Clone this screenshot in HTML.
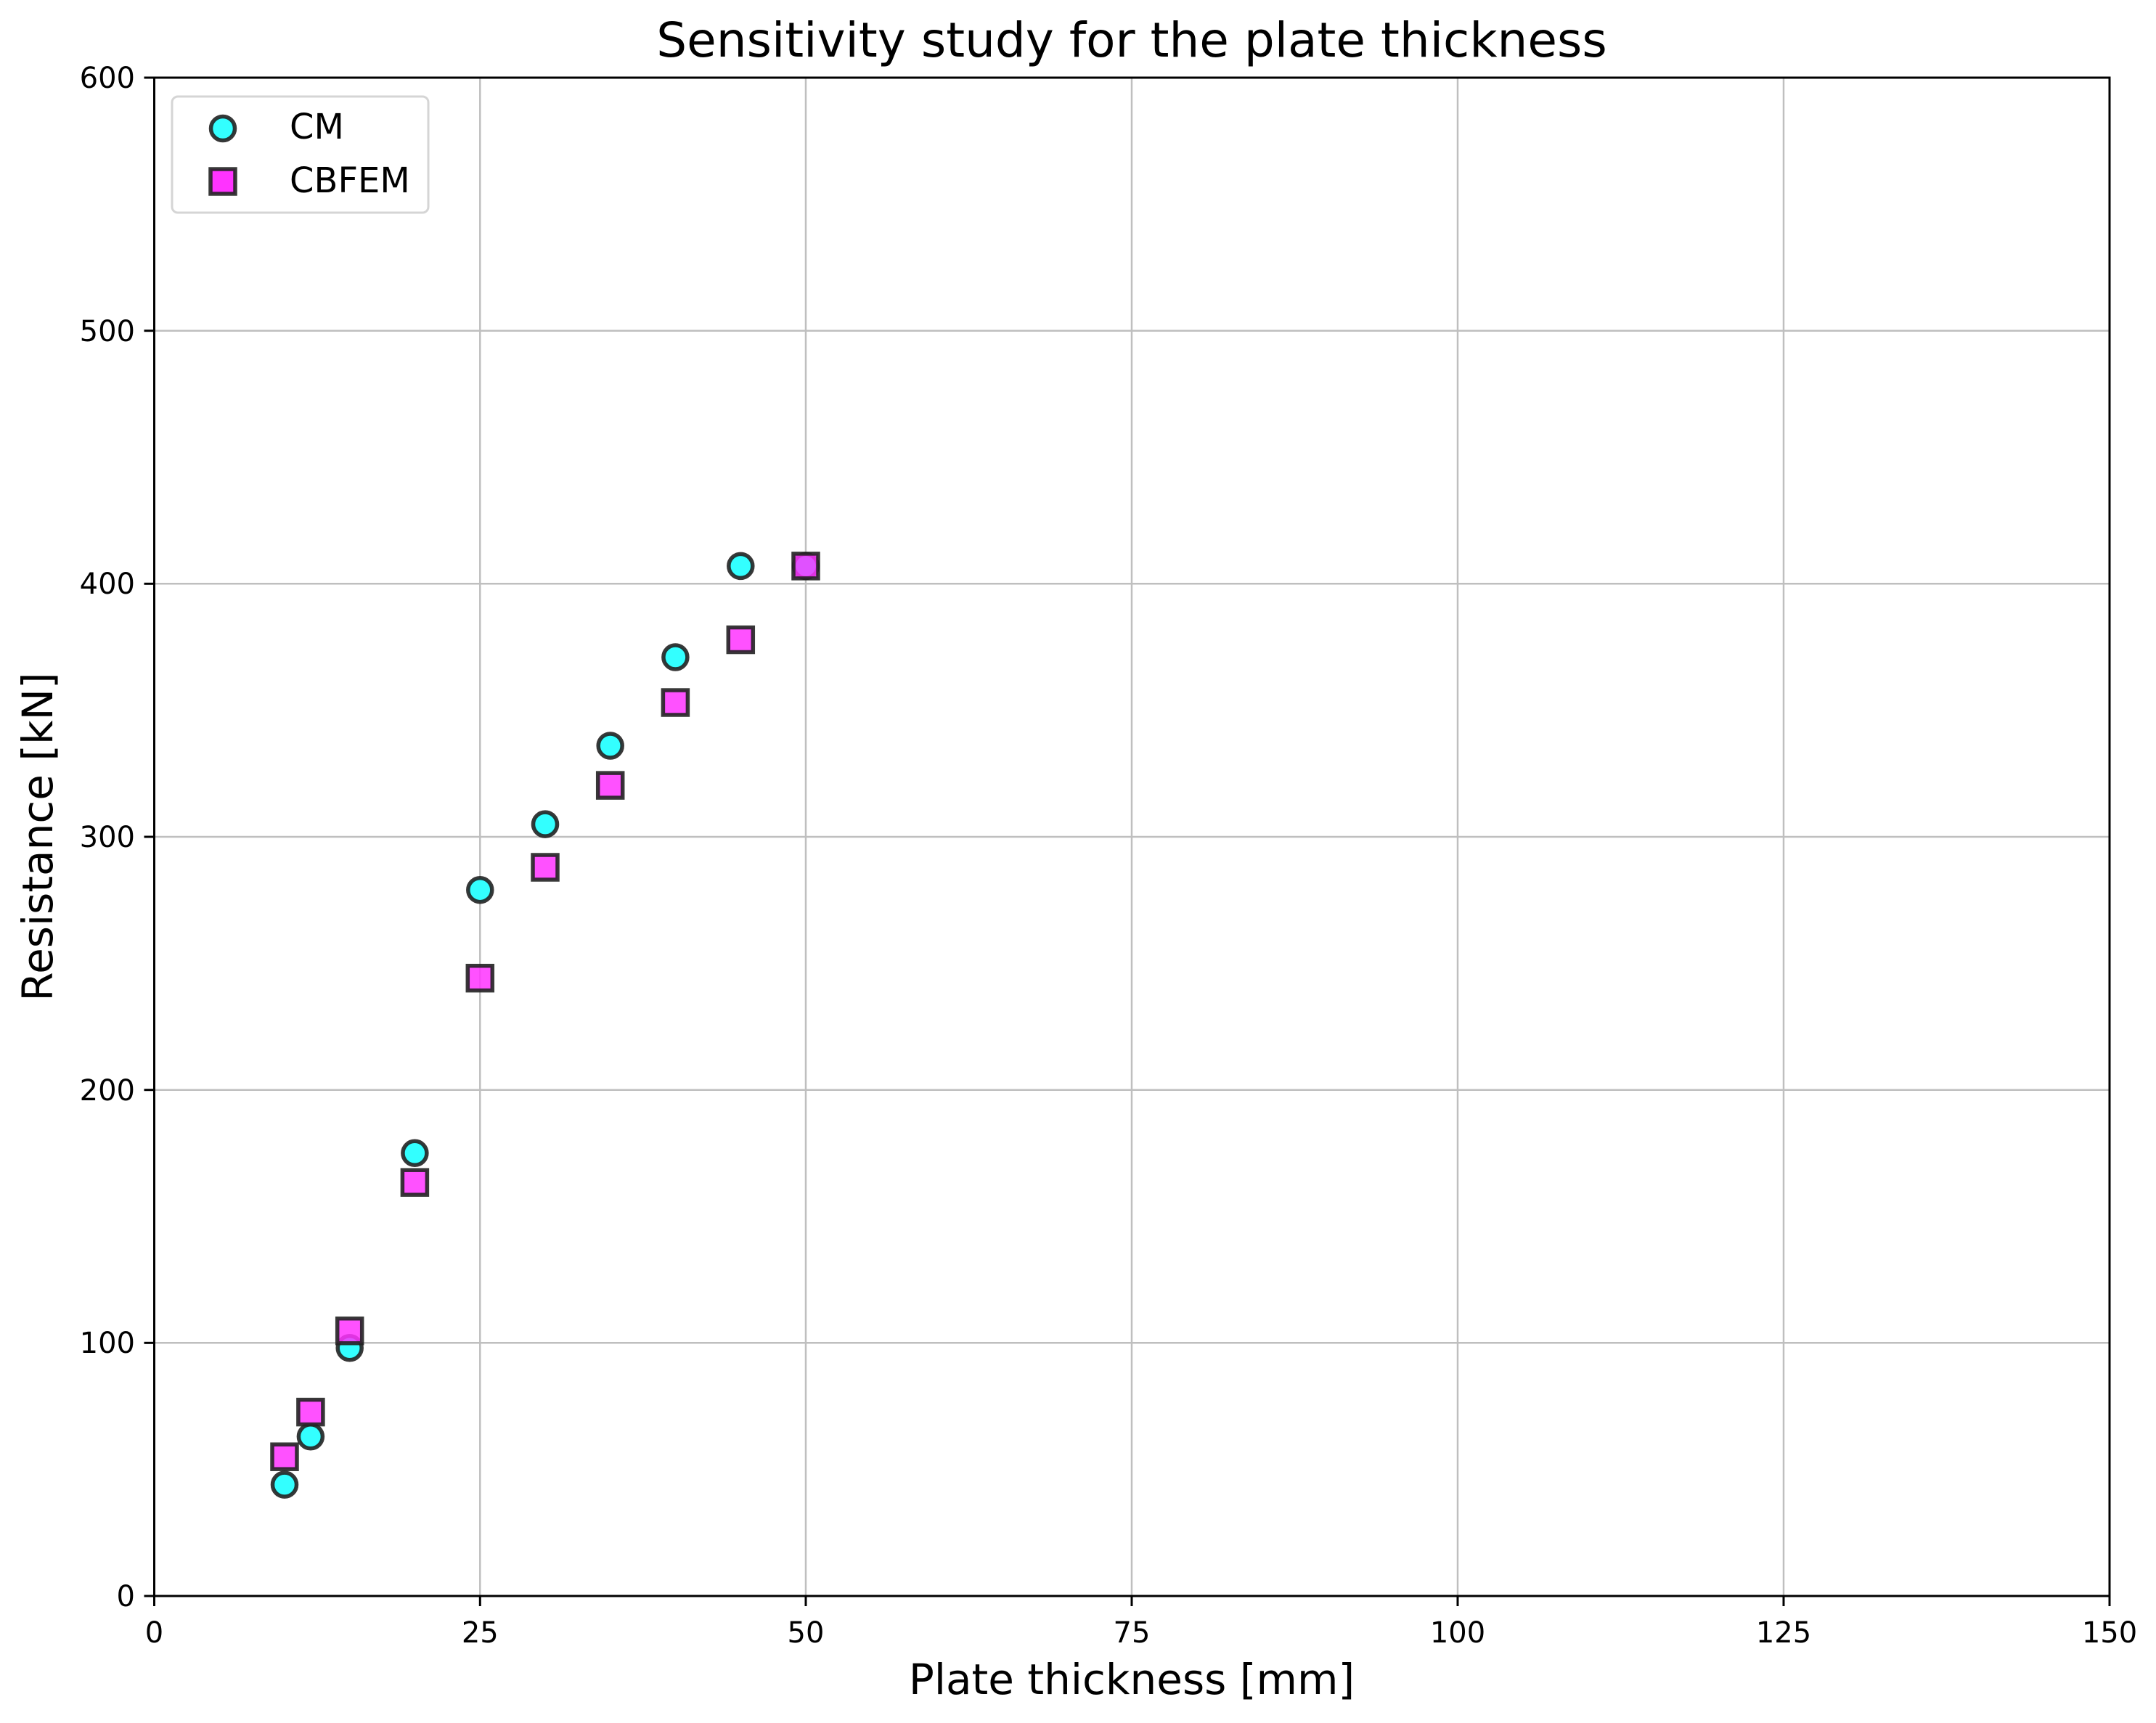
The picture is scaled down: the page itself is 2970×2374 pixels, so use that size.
<!DOCTYPE html>
<html><head><meta charset="utf-8"><style>html,body{margin:0;padding:0;background:#fff}svg{display:block}</style></head>
<body>
<svg xmlns="http://www.w3.org/2000/svg" width="2970" height="2374" viewBox="0 0 2970 2374" font-family="'DejaVu Sans','Liberation Sans',sans-serif">
<rect width="2970" height="2374" fill="#fff"/>
<g stroke="#b0b0b0" stroke-width="2.5" opacity="0.8">
<line x1="661.3" y1="107" x2="661.3" y2="2199"/>
<line x1="1110" y1="107" x2="1110" y2="2199"/>
<line x1="1559" y1="107" x2="1559" y2="2199"/>
<line x1="2008" y1="107" x2="2008" y2="2199"/>
<line x1="2457" y1="107" x2="2457" y2="2199"/>
<line x1="212.5" y1="1850.3" x2="2906" y2="1850.3"/>
<line x1="212.5" y1="1501.7" x2="2906" y2="1501.7"/>
<line x1="212.5" y1="1153" x2="2906" y2="1153"/>
<line x1="212.5" y1="804.3" x2="2906" y2="804.3"/>
<line x1="212.5" y1="455.7" x2="2906" y2="455.7"/>
</g>
<g stroke="#000" stroke-width="3">
<rect x="212.5" y="107" width="2693.5" height="2092" fill="none"/>
<line x1="212.5" y1="2199" x2="212.5" y2="2213"/>
<line x1="661.3" y1="2199" x2="661.3" y2="2213"/>
<line x1="1110" y1="2199" x2="1110" y2="2213"/>
<line x1="1559" y1="2199" x2="1559" y2="2213"/>
<line x1="2008" y1="2199" x2="2008" y2="2213"/>
<line x1="2457" y1="2199" x2="2457" y2="2213"/>
<line x1="2906" y1="2199" x2="2906" y2="2213"/>
<line x1="198.5" y1="2199" x2="212.5" y2="2199"/>
<line x1="198.5" y1="1850.3" x2="212.5" y2="1850.3"/>
<line x1="198.5" y1="1501.7" x2="212.5" y2="1501.7"/>
<line x1="198.5" y1="1153" x2="212.5" y2="1153"/>
<line x1="198.5" y1="804.3" x2="212.5" y2="804.3"/>
<line x1="198.5" y1="455.7" x2="212.5" y2="455.7"/>
<line x1="198.5" y1="107" x2="212.5" y2="107"/>
</g>
<g font-size="40" text-anchor="middle" fill="#000">
<text x="212.5" y="2263">0</text><text x="661.3" y="2263">25</text><text x="1110" y="2263">50</text><text x="1559" y="2263">75</text><text x="2008" y="2263">100</text><text x="2457" y="2263">125</text><text x="2906" y="2263">150</text>
</g>
<g font-size="40" text-anchor="end" fill="#000">
<text x="186" y="2213">0</text><text x="186" y="1864">100</text><text x="186" y="1516">200</text><text x="186" y="1167">300</text><text x="186" y="818">400</text><text x="186" y="470">500</text><text x="186" y="121">600</text>
</g>
<text x="1559" y="78" font-size="66" text-anchor="middle">Sensitivity study for the plate thickness</text>
<text x="1559" y="2334" font-size="58" text-anchor="middle">Plate thickness [mm]</text>
<text transform="translate(72,1153) rotate(-90)" font-size="58" text-anchor="middle">Resistance [kN]</text>
<g fill="#33ffff" stroke="#222" stroke-opacity="0.9" stroke-width="5.5">
<circle cx="392" cy="2045.6" r="16.5"/>
<circle cx="427.9" cy="1979.3" r="16.5"/>
<circle cx="481.7" cy="1857.3" r="16.5"/>
<circle cx="571.4" cy="1588.8" r="16.5"/>
<circle cx="661.3" cy="1226.2" r="16.5"/>
<circle cx="751" cy="1135.6" r="16.5"/>
<circle cx="840.7" cy="1027.5" r="16.5"/>
<circle cx="930.4" cy="905.5" r="16.5"/>
<circle cx="1020.3" cy="779.9" r="16.5"/>
<circle cx="1110" cy="779.9" r="16.5"/>
</g>
<g fill="#ff33ff" fill-opacity="0.85" stroke="#222" stroke-opacity="0.9" stroke-width="5.5">
<rect x="375" y="1990.2" width="34" height="34"/>
<rect x="410.9" y="1928.6" width="34" height="34"/>
<rect x="464.7" y="1816.7" width="34" height="34"/>
<rect x="554.4" y="1612.2" width="34" height="34"/>
<rect x="644.3" y="1330.7" width="34" height="34"/>
<rect x="734" y="1178" width="34" height="34"/>
<rect x="823.7" y="1065.1" width="34" height="34"/>
<rect x="913.4" y="951" width="34" height="34"/>
<rect x="1003.3" y="864.5" width="34" height="34"/>
<rect x="1093" y="762.9" width="34" height="34"/>
</g>
<rect x="237" y="133" width="353" height="160" rx="8" fill="#fff" fill-opacity="0.8" stroke="#d5d5d5" stroke-width="3"/>
<circle cx="307" cy="177" r="16.5" fill="#33ffff" stroke="#222" stroke-opacity="0.9" stroke-width="5.5"/>
<rect x="290" y="233" width="34" height="34" fill="#ff33ff" stroke="#222" stroke-opacity="0.9" stroke-width="5.5"/>
<text x="399" y="191" font-size="48">CM</text>
<text x="399" y="265" font-size="48">CBFEM</text>
</svg>
</body></html>
